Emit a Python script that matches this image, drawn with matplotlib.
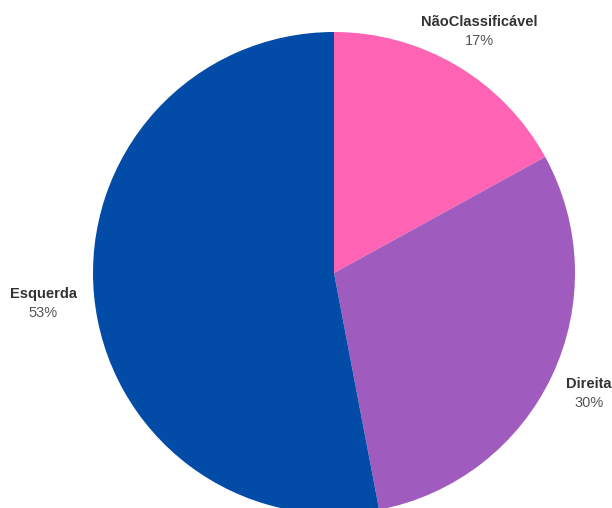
import numpy as np
import matplotlib
matplotlib.use("Agg")
import matplotlib.pyplot as plt

plt.rcParams['font.family'] = ['Liberation Sans', 'DejaVu Sans']

labels = ["NãoClassificável", "Direita", "Esquerda"]
values = [17, 30, 53]
colors = ["#FF63B4", "#A05BBE", "#024BA7"]

W, H = 612, 508
fig = plt.figure(figsize=(W / 100, H / 100), dpi=100)
ax = fig.add_axes([0, 0, 1, 1])

cx, cy, r = 334, H - 273, 241
wedges, _ = ax.pie(values, colors=colors, startangle=90, counterclock=False,
                   center=(cx, cy), radius=r, frame=True,
                   wedgeprops=dict(linewidth=0))
ax.set_xlim(0, W)
ax.set_ylim(0, H)
ax.set_aspect('equal')
ax.axis('off')

### labels outside, at mid angle of each wedge
nudge = {"Esquerda": (-10, -3), "NãoClassificável": (2, -1)}
for w, lab, v in zip(wedges, labels, values):
    ang = np.deg2rad((w.theta1 + w.theta2) / 2)
    dx, dy = nudge.get(lab, (0, 0))
    x = cx + 1.17 * r * np.cos(ang) + dx
    y = cy + 1.17 * r * np.sin(ang) + dy
    ax.text(x, y + 9, lab, ha='center', va='center', fontsize=10.5,
            weight='bold', color='#333333')
    ax.text(x, y - 10, f"{v}%", ha='center', va='center', fontsize=10.5,
            color='#555555')

fig.savefig("out.png", dpi=100)
